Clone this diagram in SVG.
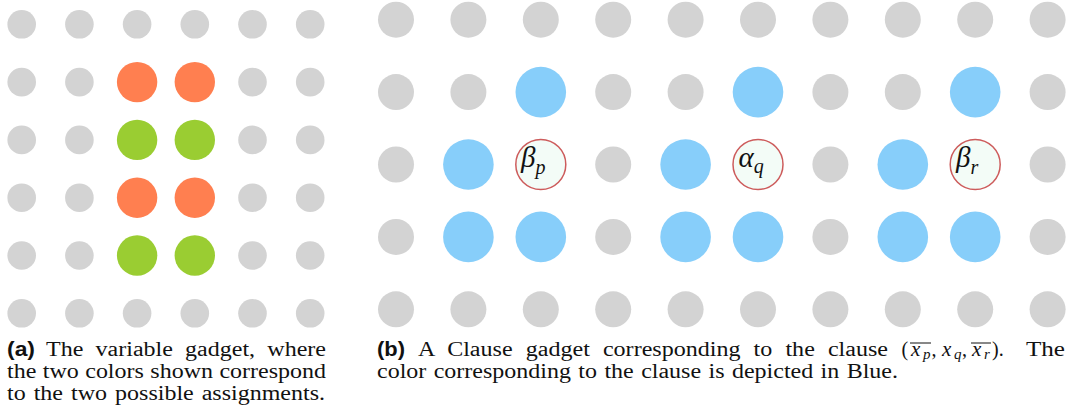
<svg xmlns="http://www.w3.org/2000/svg" width="1073" height="415" viewBox="0 0 1073 415">
<style>
.g{fill:#D3D3D3}
.o{fill:#FF7F50}
.gr{fill:#9ACD32}
.b{fill:#87CEFA}
.lab{fill:#F3FCF7;stroke:#CD5C5C;stroke-width:1.5}
.m{font-family:"Liberation Serif",serif;font-style:italic;fill:#111}
.cap{font-family:"Liberation Serif",serif;font-size:20px;fill:#111}
.mi{font-family:"Liberation Serif",serif;font-style:italic;font-size:21px;fill:#111}
.ms{font-family:"Liberation Serif",serif;font-style:italic;font-size:15px;fill:#111}
.bf{font-family:"Liberation Sans",sans-serif;font-weight:bold;font-size:20px;fill:#111}
.ol{stroke:#111;stroke-width:1}
</style>
<rect width="1073" height="415" fill="#fff"/>
<g id="panel-a">
<g id="a00"><circle class="g" cx="21.7" cy="24.3" r="14.3"/></g>
<g id="a01"><circle class="g" cx="79.4" cy="24.3" r="14.3"/></g>
<g id="a02"><circle class="g" cx="137.1" cy="24.3" r="14.3"/></g>
<g id="a03"><circle class="g" cx="194.8" cy="24.3" r="14.3"/></g>
<g id="a04"><circle class="g" cx="252.5" cy="24.3" r="14.3"/></g>
<g id="a05"><circle class="g" cx="310.2" cy="24.3" r="14.3"/></g>
<g id="a10"><circle class="g" cx="21.7" cy="82.1" r="14.3"/></g>
<g id="a11"><circle class="g" cx="79.4" cy="82.1" r="14.3"/></g>
<g id="a12"><circle class="o" cx="137.1" cy="82.1" r="20.2"/></g>
<g id="a13"><circle class="o" cx="194.8" cy="82.1" r="20.2"/></g>
<g id="a14"><circle class="g" cx="252.5" cy="82.1" r="14.3"/></g>
<g id="a15"><circle class="g" cx="310.2" cy="82.1" r="14.3"/></g>
<g id="a20"><circle class="g" cx="21.7" cy="139.9" r="14.3"/></g>
<g id="a21"><circle class="g" cx="79.4" cy="139.9" r="14.3"/></g>
<g id="a22"><circle class="gr" cx="137.1" cy="139.9" r="20.2"/></g>
<g id="a23"><circle class="gr" cx="194.8" cy="139.9" r="20.2"/></g>
<g id="a24"><circle class="g" cx="252.5" cy="139.9" r="14.3"/></g>
<g id="a25"><circle class="g" cx="310.2" cy="139.9" r="14.3"/></g>
<g id="a30"><circle class="g" cx="21.7" cy="197.7" r="14.3"/></g>
<g id="a31"><circle class="g" cx="79.4" cy="197.7" r="14.3"/></g>
<g id="a32"><circle class="o" cx="137.1" cy="197.7" r="20.2"/></g>
<g id="a33"><circle class="o" cx="194.8" cy="197.7" r="20.2"/></g>
<g id="a34"><circle class="g" cx="252.5" cy="197.7" r="14.3"/></g>
<g id="a35"><circle class="g" cx="310.2" cy="197.7" r="14.3"/></g>
<g id="a40"><circle class="g" cx="21.7" cy="255.5" r="14.3"/></g>
<g id="a41"><circle class="g" cx="79.4" cy="255.5" r="14.3"/></g>
<g id="a42"><circle class="gr" cx="137.1" cy="255.5" r="20.2"/></g>
<g id="a43"><circle class="gr" cx="194.8" cy="255.5" r="20.2"/></g>
<g id="a44"><circle class="g" cx="252.5" cy="255.5" r="14.3"/></g>
<g id="a45"><circle class="g" cx="310.2" cy="255.5" r="14.3"/></g>
<g id="a50"><circle class="g" cx="21.7" cy="313.3" r="14.3"/></g>
<g id="a51"><circle class="g" cx="79.4" cy="313.3" r="14.3"/></g>
<g id="a52"><circle class="g" cx="137.1" cy="313.3" r="14.3"/></g>
<g id="a53"><circle class="g" cx="194.8" cy="313.3" r="14.3"/></g>
<g id="a54"><circle class="g" cx="252.5" cy="313.3" r="14.3"/></g>
<g id="a55"><circle class="g" cx="310.2" cy="313.3" r="14.3"/></g>
</g>
<g id="panel-b">
<g id="b00"><circle class="g" cx="396" cy="19.7" r="18"/></g>
<g id="b01"><circle class="g" cx="468.4" cy="19.7" r="18"/></g>
<g id="b02"><circle class="g" cx="540.8" cy="19.7" r="18"/></g>
<g id="b03"><circle class="g" cx="613.2" cy="19.7" r="18"/></g>
<g id="b04"><circle class="g" cx="685.6" cy="19.7" r="18"/></g>
<g id="b05"><circle class="g" cx="758" cy="19.7" r="18"/></g>
<g id="b06"><circle class="g" cx="830.4" cy="19.7" r="18"/></g>
<g id="b07"><circle class="g" cx="902.8" cy="19.7" r="18"/></g>
<g id="b08"><circle class="g" cx="975.2" cy="19.7" r="18"/></g>
<g id="b09"><circle class="g" cx="1047.6" cy="19.7" r="18"/></g>
<g id="b10"><circle class="g" cx="396" cy="92.1" r="18"/></g>
<g id="b11"><circle class="g" cx="468.4" cy="92.1" r="18"/></g>
<g id="b12"><circle class="b" cx="540.8" cy="92.1" r="25.3"/></g>
<g id="b13"><circle class="g" cx="613.2" cy="92.1" r="18"/></g>
<g id="b14"><circle class="g" cx="685.6" cy="92.1" r="18"/></g>
<g id="b15"><circle class="b" cx="758" cy="92.1" r="25.3"/></g>
<g id="b16"><circle class="g" cx="830.4" cy="92.1" r="18"/></g>
<g id="b17"><circle class="g" cx="902.8" cy="92.1" r="18"/></g>
<g id="b18"><circle class="b" cx="975.2" cy="92.1" r="25.3"/></g>
<g id="b19"><circle class="g" cx="1047.6" cy="92.1" r="18"/></g>
<g id="b20"><circle class="g" cx="396" cy="164.5" r="18"/></g>
<g id="b21"><circle class="b" cx="468.4" cy="164.5" r="25.3"/></g>
<g id="b22-beta-p"><circle class="lab" cx="540.8" cy="164.5" r="25"/><text class="m" x="521" y="166.5" font-size="29">β<tspan font-size="20" dy="7">p</tspan></text></g>
<g id="b23"><circle class="g" cx="613.2" cy="164.5" r="18"/></g>
<g id="b24"><circle class="b" cx="685.6" cy="164.5" r="25.3"/></g>
<g id="b25-alpha-q"><circle class="lab" cx="758" cy="164.5" r="25"/><text class="m" x="738.5" y="167" font-size="29">α<tspan font-size="20" dy="6">q</tspan></text></g>
<g id="b26"><circle class="g" cx="830.4" cy="164.5" r="18"/></g>
<g id="b27"><circle class="b" cx="902.8" cy="164.5" r="25.3"/></g>
<g id="b28-beta-r"><circle class="lab" cx="975.2" cy="164.5" r="25"/><text class="m" x="956" y="166.5" font-size="29">β<tspan font-size="20" dy="7">r</tspan></text></g>
<g id="b29"><circle class="g" cx="1047.6" cy="164.5" r="18"/></g>
<g id="b30"><circle class="g" cx="396" cy="236.9" r="18"/></g>
<g id="b31"><circle class="b" cx="468.4" cy="236.9" r="25.3"/></g>
<g id="b32"><circle class="b" cx="540.8" cy="236.9" r="25.3"/></g>
<g id="b33"><circle class="g" cx="613.2" cy="236.9" r="18"/></g>
<g id="b34"><circle class="b" cx="685.6" cy="236.9" r="25.3"/></g>
<g id="b35"><circle class="b" cx="758" cy="236.9" r="25.3"/></g>
<g id="b36"><circle class="g" cx="830.4" cy="236.9" r="18"/></g>
<g id="b37"><circle class="b" cx="902.8" cy="236.9" r="25.3"/></g>
<g id="b38"><circle class="b" cx="975.2" cy="236.9" r="25.3"/></g>
<g id="b39"><circle class="g" cx="1047.6" cy="236.9" r="18"/></g>
<g id="b40"><circle class="g" cx="396" cy="309.3" r="18"/></g>
<g id="b41"><circle class="g" cx="468.4" cy="309.3" r="18"/></g>
<g id="b42"><circle class="g" cx="540.8" cy="309.3" r="18"/></g>
<g id="b43"><circle class="g" cx="613.2" cy="309.3" r="18"/></g>
<g id="b44"><circle class="g" cx="685.6" cy="309.3" r="18"/></g>
<g id="b45"><circle class="g" cx="758" cy="309.3" r="18"/></g>
<g id="b46"><circle class="g" cx="830.4" cy="309.3" r="18"/></g>
<g id="b47"><circle class="g" cx="902.8" cy="309.3" r="18"/></g>
<g id="b48"><circle class="g" cx="975.2" cy="309.3" r="18"/></g>
<g id="b49"><circle class="g" cx="1047.6" cy="309.3" r="18"/></g>
</g>
<g id="caption-a">
<text class="bf" x="7" y="356" textLength="28" lengthAdjust="spacingAndGlyphs">(a)</text>
<text class="cap" x="46" y="356" style="word-spacing:5.2px" textLength="280" lengthAdjust="spacingAndGlyphs">The variable gadget, where</text>
<text class="cap" x="7" y="378" style="word-spacing:0.4px" textLength="319" lengthAdjust="spacingAndGlyphs">the two colors shown correspond</text>
<text class="cap" x="7" y="400" style="word-spacing:1.7px" textLength="318" lengthAdjust="spacingAndGlyphs">to the two possible assignments.</text>
</g>
<g id="caption-b">
<text class="bf" x="377" y="356" textLength="28" lengthAdjust="spacingAndGlyphs">(b)</text>
<text class="cap" x="418" y="356" style="word-spacing:5.9px" textLength="470" lengthAdjust="spacingAndGlyphs">A Clause gadget corresponding to the clause</text>
<text class="cap" x="901.5" y="356" font-size="21">(</text>
<text class="mi" x="911" y="356">x</text><text class="ms" x="923" y="359">p</text>
<text class="cap" x="931.5" y="356" font-size="21">,</text>
<text class="mi" x="942" y="356">x</text><text class="ms" x="954" y="359">q</text>
<text class="cap" x="962" y="356" font-size="21">,</text>
<text class="mi" x="972" y="356">x</text><text class="ms" x="984" y="359">r</text>
<text class="cap" x="992" y="356" font-size="21">).</text>
<line class="ol" x1="910" y1="343" x2="931" y2="343"/>
<line class="ol" x1="971" y1="343" x2="991" y2="343"/>
<text class="cap" x="1026" y="356" textLength="39" lengthAdjust="spacingAndGlyphs">The</text>
<text class="cap" x="377" y="378" style="word-spacing:1.2px" textLength="521" lengthAdjust="spacingAndGlyphs">color corresponding to the clause is depicted in Blue.</text>
</g>
</svg>
